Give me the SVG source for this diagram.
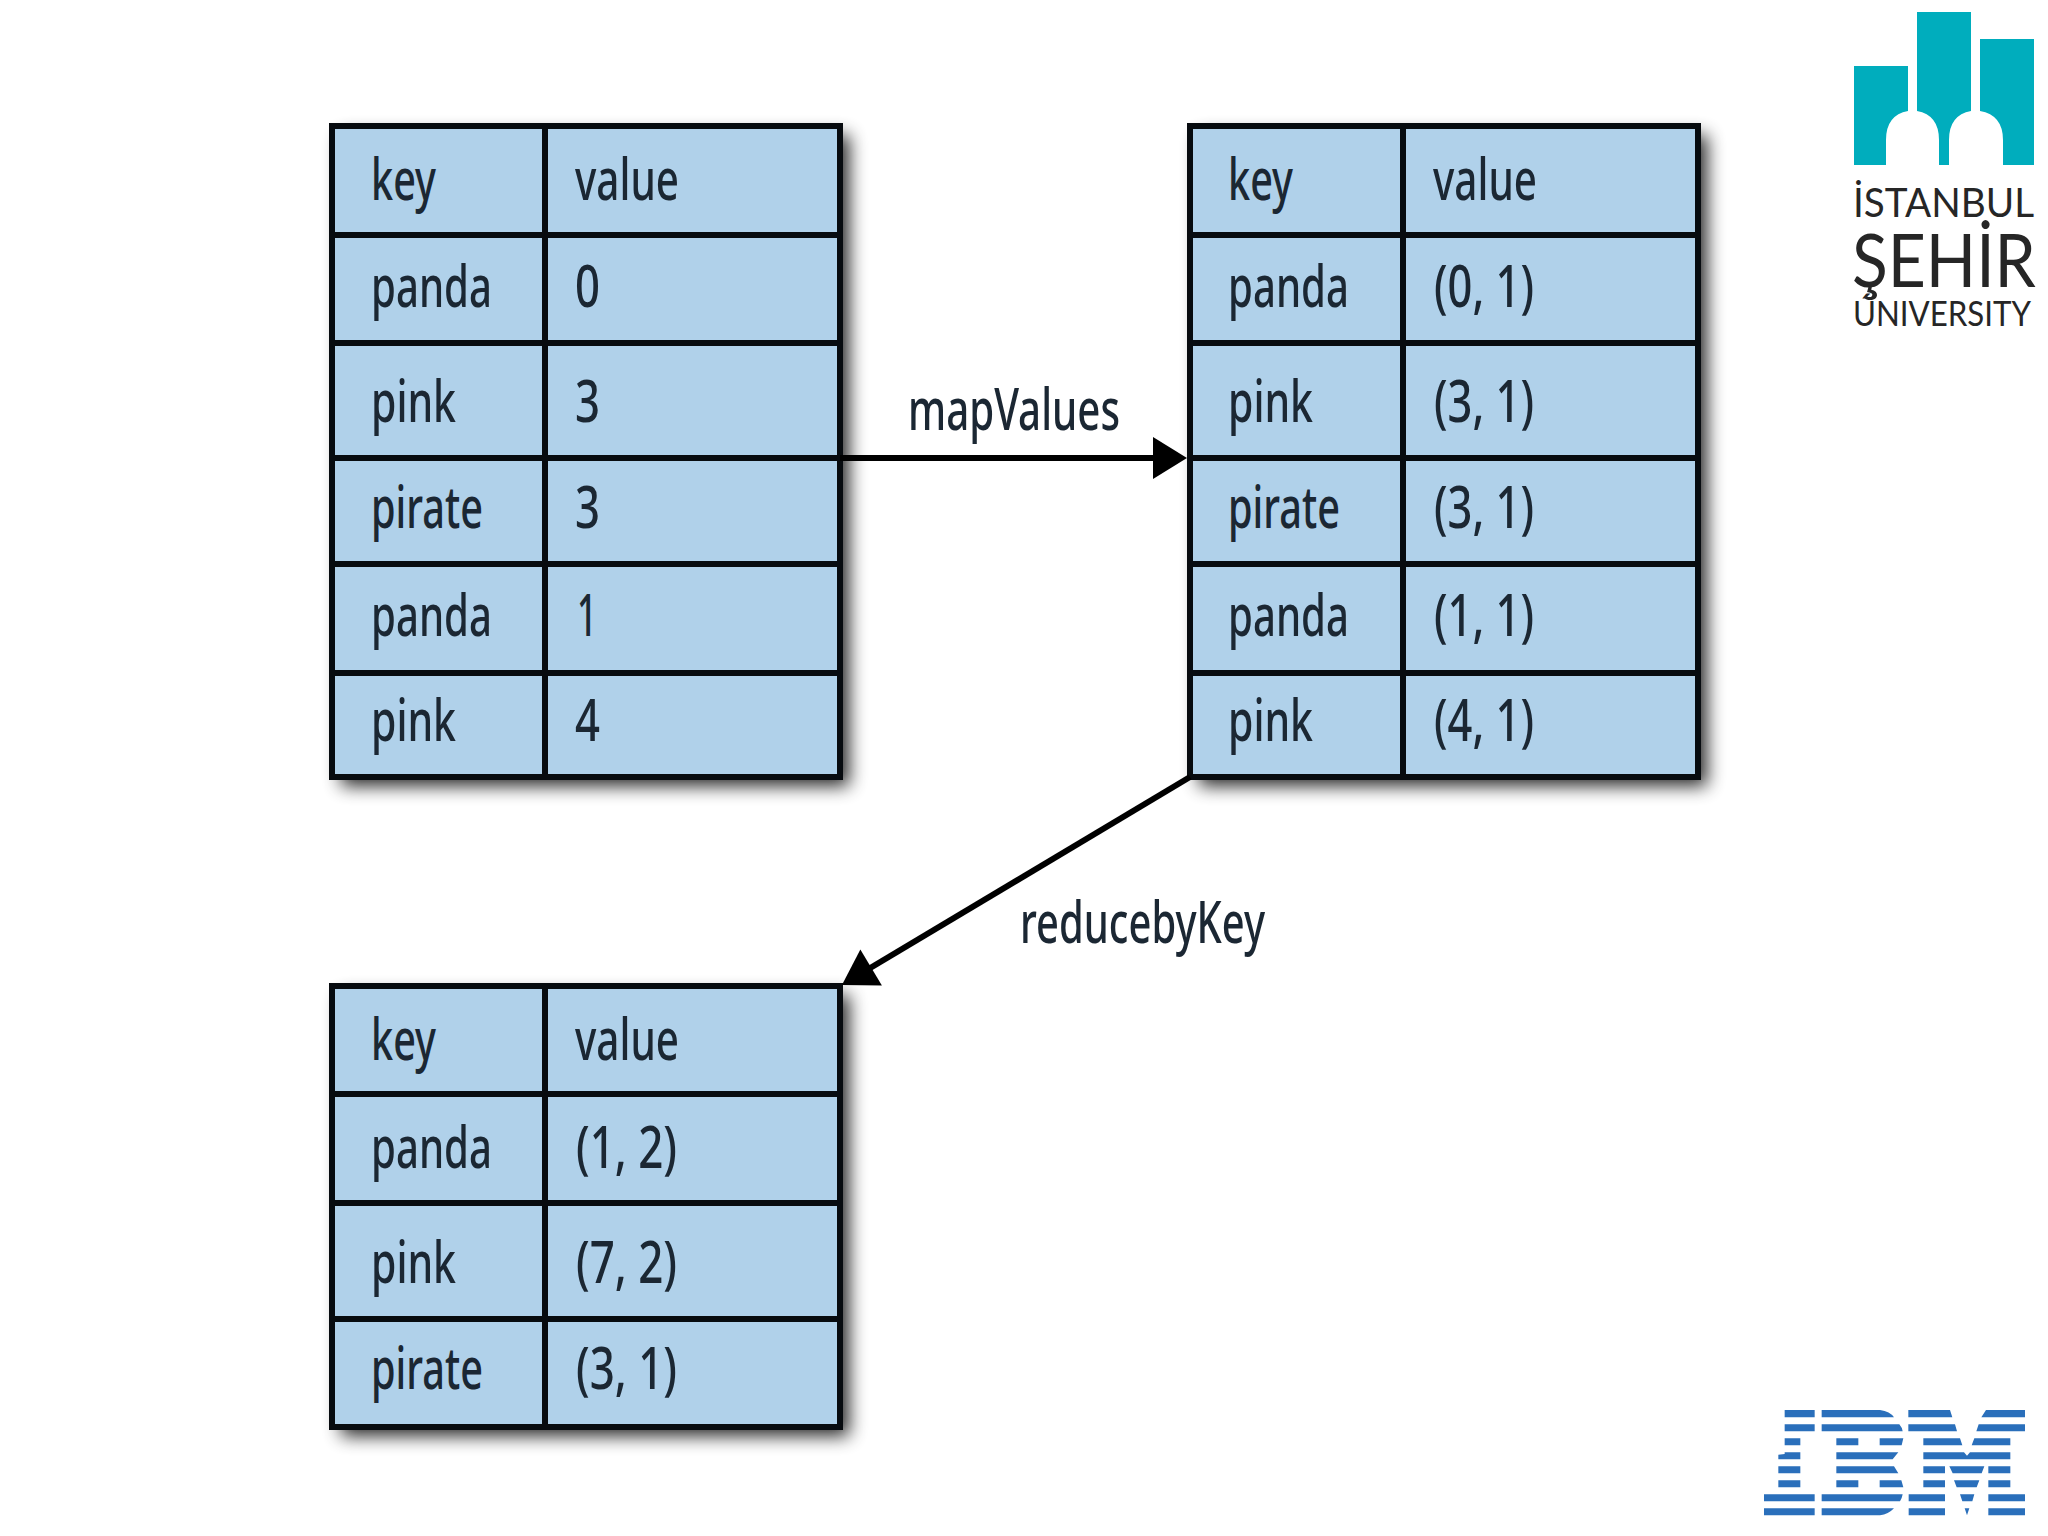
<svg xmlns="http://www.w3.org/2000/svg" width="2048" height="1536" viewBox="0 0 2048 1536">
<style>
.bg{fill:#b0d1ea;stroke:none;filter:url(#sh)}
.grid{fill:none;stroke:#070b0f;stroke-width:6}
text{font-family:"Noto Sans","Open Sans",sans-serif;font-size:58px;font-weight:500;fill:#1b2733}
.lg{font-family:"Lato","Noto Sans",sans-serif;font-weight:400;fill:#262626}
.conn{stroke:#000;stroke-width:6;fill:none}
.teal{fill:#00adbd}
.ibm{fill:#2a6fbb}
</style>
<defs>
<filter id="sh" x="-10%" y="-10%" width="125%" height="125%">
<feGaussianBlur in="SourceAlpha" stdDeviation="9"/>
<feOffset dx="9" dy="9"/>
<feComponentTransfer><feFuncA type="linear" slope=".85"/></feComponentTransfer>
<feMerge><feMergeNode/><feMergeNode in="SourceGraphic"/></feMerge>
</filter>
<marker id="ah" markerUnits="userSpaceOnUse" markerWidth="36" markerHeight="42" viewBox="0 0 34 42" refX="4" refY="21" orient="auto"><path d="M0 0L34 21L0 42Z" fill="#000"/></marker>
</defs>
<rect width="2048" height="1536" fill="#fff"/>
<g id="table-source">
<rect class="bg" x="332" y="126" width="508" height="651"/>
<path class="grid" d="M332 126H840V777H332ZM545 126V777M332 235H840M332 343H840M332 458H840M332 564H840M332 673H840"/>
<text x="371" y="200" textLength="65" lengthAdjust="spacingAndGlyphs">key</text>
<text x="575" y="200" textLength="104" lengthAdjust="spacingAndGlyphs">value</text>
<text x="371" y="307" textLength="121" lengthAdjust="spacingAndGlyphs">panda</text>
<text x="575" y="307" textLength="25" lengthAdjust="spacingAndGlyphs">0</text>
<text x="371" y="422" textLength="85" lengthAdjust="spacingAndGlyphs">pink</text>
<text x="575" y="422" textLength="25" lengthAdjust="spacingAndGlyphs">3</text>
<text x="371" y="528" textLength="112" lengthAdjust="spacingAndGlyphs">pirate</text>
<text x="575" y="528" textLength="25" lengthAdjust="spacingAndGlyphs">3</text>
<text x="371" y="636" textLength="121" lengthAdjust="spacingAndGlyphs">panda</text>
<text x="577" y="636" textLength="20" lengthAdjust="spacingAndGlyphs">1</text>
<text x="371" y="741" textLength="85" lengthAdjust="spacingAndGlyphs">pink</text>
<text x="575" y="741" textLength="25" lengthAdjust="spacingAndGlyphs">4</text>
</g>
<g id="table-mapped">
<rect class="bg" x="1190" y="126" width="508" height="651"/>
<path class="grid" d="M1190 126H1698V777H1190ZM1403 126V777M1190 235H1698M1190 343H1698M1190 458H1698M1190 564H1698M1190 673H1698"/>
<text x="1228" y="200" textLength="65" lengthAdjust="spacingAndGlyphs">key</text>
<text x="1433" y="200" textLength="104" lengthAdjust="spacingAndGlyphs">value</text>
<text x="1228" y="307" textLength="121" lengthAdjust="spacingAndGlyphs">panda</text>
<text x="1434" y="307" textLength="100" lengthAdjust="spacingAndGlyphs">(0, 1)</text>
<text x="1228" y="422" textLength="85" lengthAdjust="spacingAndGlyphs">pink</text>
<text x="1434" y="422" textLength="100" lengthAdjust="spacingAndGlyphs">(3, 1)</text>
<text x="1228" y="528" textLength="112" lengthAdjust="spacingAndGlyphs">pirate</text>
<text x="1434" y="528" textLength="100" lengthAdjust="spacingAndGlyphs">(3, 1)</text>
<text x="1228" y="636" textLength="121" lengthAdjust="spacingAndGlyphs">panda</text>
<text x="1434" y="636" textLength="100" lengthAdjust="spacingAndGlyphs">(1, 1)</text>
<text x="1228" y="741" textLength="85" lengthAdjust="spacingAndGlyphs">pink</text>
<text x="1434" y="741" textLength="100" lengthAdjust="spacingAndGlyphs">(4, 1)</text>
</g>
<g id="table-reduced">
<rect class="bg" x="332" y="986" width="508" height="441"/>
<path class="grid" d="M332 986H840V1427H332ZM545 986V1427M332 1094H840M332 1203H840M332 1319H840"/>
<text x="371" y="1060" textLength="65" lengthAdjust="spacingAndGlyphs">key</text>
<text x="575" y="1060" textLength="104" lengthAdjust="spacingAndGlyphs">value</text>
<text x="371" y="1168" textLength="121" lengthAdjust="spacingAndGlyphs">panda</text>
<text x="576" y="1168" textLength="101" lengthAdjust="spacingAndGlyphs">(1, 2)</text>
<text x="371" y="1283" textLength="85" lengthAdjust="spacingAndGlyphs">pink</text>
<text x="576" y="1283" textLength="101" lengthAdjust="spacingAndGlyphs">(7, 2)</text>
<text x="371" y="1389" textLength="112" lengthAdjust="spacingAndGlyphs">pirate</text>
<text x="576" y="1389" textLength="101" lengthAdjust="spacingAndGlyphs">(3, 1)</text>
</g>
<g id="connectors">
<line class="conn" x1="840" y1="458" x2="1157" y2="458" marker-end="url(#ah)"/>
<line class="conn" x1="1190" y1="777" x2="867.7" y2="969.5" marker-end="url(#ah)"/>
<text x="908" y="430" textLength="212" lengthAdjust="spacingAndGlyphs">mapValues</text>
<text x="1020" y="943" textLength="245" lengthAdjust="spacingAndGlyphs">reducebyKey</text>
</g>
<g id="logo-sehir">
<path class="teal" d="M1854 66H1908V111Q1886 115 1886 140V165H1854Z"/>
<path class="teal" d="M1917 12H1971V111Q1949 115 1949 140V165H1939V140Q1939 115 1917 111Z"/>
<path class="teal" d="M1980 39H2034V165H2003V140Q2003 115 1980 111Z"/>
<text class="lg" x="1853" y="217" style="font-size:41px" textLength="181" lengthAdjust="spacingAndGlyphs">İSTANBUL</text>
<text class="lg" transform="translate(1852 287) scale(.88 1)" style="font-size:74px" textLength="209" lengthAdjust="spacingAndGlyphs">ŞEHİR</text>
<text class="lg" transform="translate(1853 326) scale(.8 1)" style="font-size:35px" textLength="222.5" lengthAdjust="spacingAndGlyphs">ÚNIVERSITY</text>
</g>
<g id="logo-ibm" class="ibm" transform="translate(1740 1390) scale(.33333)">
<path d="M134 60H224V82H134ZM245 60H420Q450 64 462 82H245ZM505 60H630L637 82H505ZM738 60H855V82H724Z"/>
<path d="M134 103H224V124H134ZM245 103H478Q486 112 488 124H245ZM505 103H645L651 124H505ZM716 103H855V124H709Z"/>
<path d="M134 145H181V166H134ZM289 145H355V166H289ZM419 145H490L485 166H419ZM550 145H660L667 166H550ZM703 145H811V166H695Z"/>
<path d="M134 187H181V208H115V194L134 192ZM289 187H475L458 208H289ZM550 187H672L681 197L690 187H811V208H550Z"/>
<path d="M115 229H181V250H115ZM289 229H462L475 250H289ZM550 229H615V250H550ZM628 229H733L725 250H638ZM745 229H811V250H745Z"/>
<path d="M115 271H181V292H115ZM289 271H355V292H289ZM419 271H484L490 292H419ZM550 271H615V292H550ZM642 271H718L710 292H650ZM745 271H811V292H745Z"/>
<path d="M72 313H224V334H72ZM245 313H488Q486 325 480 334H245ZM506 313H615V334H506ZM660 313H703L697 334H667ZM745 313H855V334H745Z"/>
<path d="M72 355H224V376H72ZM245 355H462Q445 373 420 376H245ZM506 355H615V376H506ZM674 355H688L681 376ZM745 355H855V376H745Z"/>
</g>
</svg>
